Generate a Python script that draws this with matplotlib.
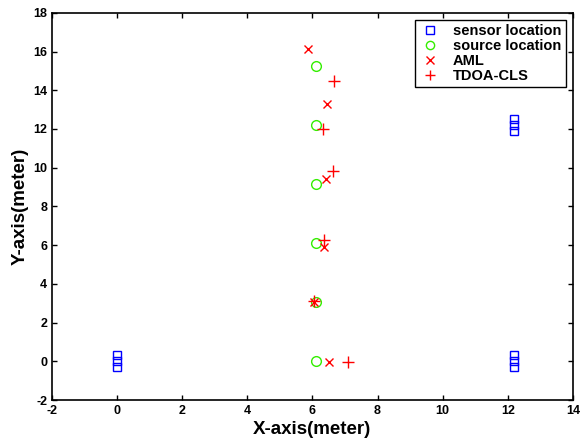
import numpy as np
import matplotlib.pyplot as plt

# sensor positions (three stacked squares at each node)
sensor_x = [0, 0, 0, 12.2, 12.2, 12.2, 12.2, 12.2, 12.2]
sensor_y = [-0.3, 0, 0.3, -0.3, 0, 0.3, 11.9, 12.2, 12.5]

# true source positions
source_x = [6.1, 6.1, 6.1, 6.1, 6.1, 6.1]
source_y = [0, 3.05, 6.1, 9.15, 12.2, 15.25]

# estimates
aml_x = [6.52, 6.05, 6.35, 6.43, 6.46, 5.87]
aml_y = [-0.04, 3.08, 5.92, 9.4, 13.31, 16.15]
tdoa_x = [7.1, 6.06, 6.35, 6.64, 6.31, 6.66]
tdoa_y = [-0.04, 3.1, 6.27, 9.85, 12.0, 14.49]

plt.rcParams['font.family'] = ['Liberation Sans', 'DejaVu Sans']
plt.rcParams['font.weight'] = 'bold'
plt.rcParams['axes.unicode_minus'] = False

fig = plt.figure(figsize=(5.84, 4.42), dpi=100)
ax = fig.add_axes([0.089, 0.095, 0.892, 0.876])

ax.plot(sensor_x, sensor_y, 's', mfc='none', mec='blue', ms=6, mew=1, label='sensor location')
ax.plot(source_x, source_y, 'o', mfc='none', mec='#33ee00', ms=7, mew=1, label='source location')
ax.plot(aml_x, aml_y, 'x', color='red', ms=6, mew=1, label='AML')
ax.plot(tdoa_x, tdoa_y, '+', color='red', ms=8, mew=1, label='TDOA-CLS')

ax.set_xlim(-2, 14)
ax.set_ylim(-2, 18)
ax.set_xticks(np.arange(-2, 15, 2))
ax.set_yticks(np.arange(-2, 19, 2))
ax.tick_params(direction='in', top=True, right=True, labelsize=9, width=1)
for lab in ax.get_xticklabels() + ax.get_yticklabels():
    lab.set_fontweight('bold')
for sp in ax.spines.values():
    sp.set_linewidth(1.2)

ax.set_xlabel('X-axis(meter)', fontsize=13.5, fontweight='bold', labelpad=3)
ax.set_ylabel('Y-axis(meter)', fontsize=13.5, fontweight='bold', labelpad=3)

leg = ax.legend(loc='upper right', fancybox=False, edgecolor='black', framealpha=1,
                prop={'size': 10.5, 'weight': 'bold'}, handletextpad=0.8,
                borderpad=0.3, labelspacing=0.05, handlelength=1.5,
                markerscale=0.85)
leg.get_frame().set_linewidth(1)

fig.savefig('out.png', dpi=100)
